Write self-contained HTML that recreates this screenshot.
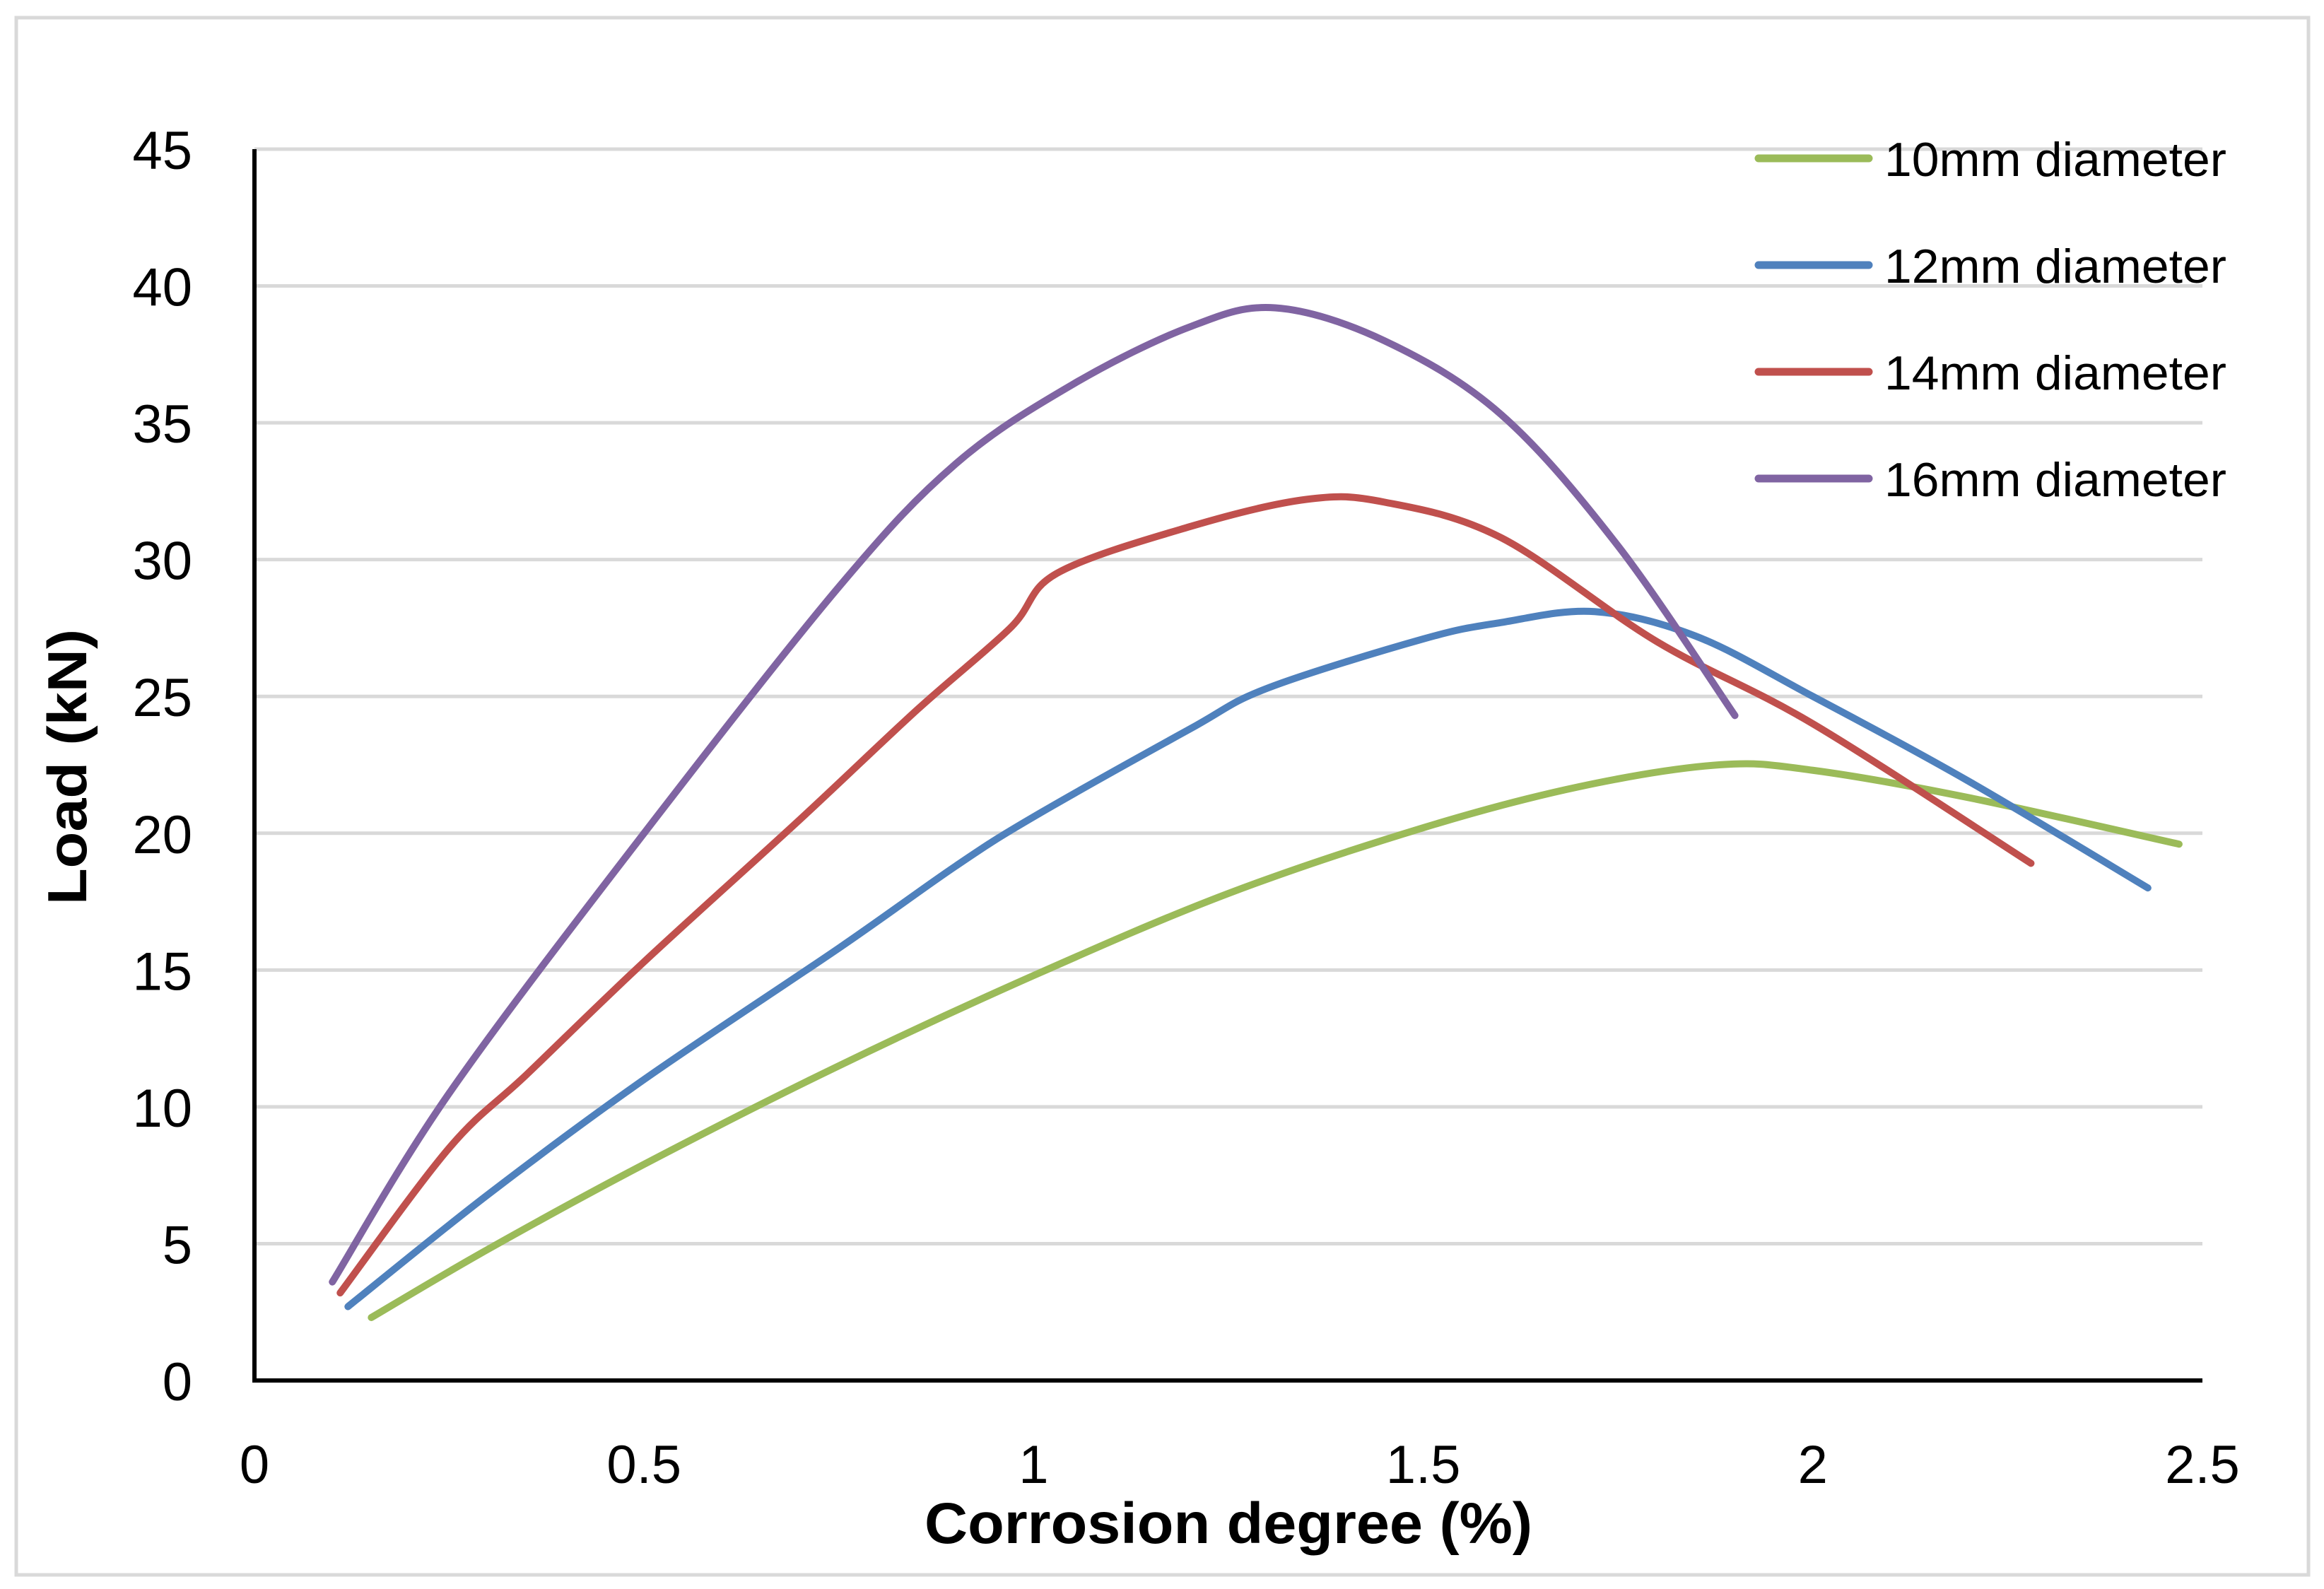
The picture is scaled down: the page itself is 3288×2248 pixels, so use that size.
<!DOCTYPE html>
<html><head><meta charset="utf-8"><style>
html,body{margin:0;padding:0;background:#fff;}
svg{display:block;font-family:"Liberation Sans",sans-serif;}
</style></head><body>
<svg id="chart" width="3288" height="2248" viewBox="0 0 3288 2248" xmlns="http://www.w3.org/2000/svg">
<rect x="23" y="25" width="3243" height="2203" fill="#fff" stroke="#d9d9d9" stroke-width="5"/>
<g id="grid"></g><g id="series"></g><g id="axes"></g><g id="legend"></g>
<text transform="translate(122,1085) rotate(-90)" text-anchor="middle" font-size="78" font-weight="bold" textLength="390" lengthAdjust="spacingAndGlyphs">Load (kN)</text>
<text x="1738" y="2183" text-anchor="middle" font-size="82" font-weight="bold" textLength="860" lengthAdjust="spacingAndGlyphs">Corrosion degree (%)</text>
</svg>
<script>
const xTicks=[0,0.5,1,1.5,2,2.5];
const yTicks=[0,5,10,15,20,25,30,35,40,45];
const seriesNames=["10mm diameter","12mm diameter","14mm diameter","16mm diameter"];
const seriesColors=["#9BBB59","#4F81BD","#C0504D","#8064A2"];
const x10=[0.15,0.3,0.5,0.75,1.0,1.25,1.5,1.7,1.88,2.0,2.2,2.47];
const y10=[2.3,4.8,7.9,11.5,14.8,17.8,20.2,21.7,22.5,22.3,21.3,19.6];
const x12=[0.12,0.3,0.5,0.75,0.9,1.0,1.2,1.3,1.5,1.6,1.72,1.85,2.0,2.2,2.43];
const y12=[2.7,6.8,11,15.8,18.8,20.6,23.8,25.3,27.1,27.7,28.1,27.2,25,21.9,18];
const x14=[0.11,0.25,0.35,0.5,0.7,0.85,0.97,1.03,1.2,1.35,1.45,1.6,1.8,2.0,2.28];
const y14=[3.2,8.5,11.2,15.3,20.5,24.5,27.5,29.5,31.2,32.2,32.1,30.8,27,24,18.9];
const x16=[0.1,0.25,0.5,0.75,0.9,1.05,1.2,1.31,1.45,1.6,1.75,1.9];
const y16=[3.6,10.5,20,29,33.5,36.4,38.5,39.2,38,35.3,30.5,24.3];
const seriesX=[x10,x12,x14,x16], seriesY=[y10,y12,y14,y16];

const X0=360,X1=3116,Y0=1953,Y1=211;
const sx=v=>X0+(v-0)/(2.5-0)*(X1-X0);
const sy=v=>Y0-(v-0)/(45-0)*(Y0-Y1);
const NS="http://www.w3.org/2000/svg";
function mk(tag,attrs,parent){const e=document.createElementNS(NS,tag);for(const k in attrs)e.setAttribute(k,attrs[k]);parent.appendChild(e);return e;}
const grid=document.getElementById('grid'),axes=document.getElementById('axes'),ser=document.getElementById('series'),leg=document.getElementById('legend');
yTicks.forEach(t=>{
  if(t>0){const l=mk('line',{x1:X0,x2:X1,y1:sy(t),y2:sy(t),stroke:'#d9d9d9','stroke-width':5},grid);
  
  }
  const tx=mk('text',{x:272,y:sy(t)+28,'text-anchor':'end','font-size':76},axes);
  tx.textContent=t;
  
  
});
xTicks.forEach(t=>{
  const tx=mk('text',{x:sx(t),y:2098,'text-anchor':'middle','font-size':76},axes);
  tx.textContent=t;
  
  
});
const ya=mk('line',{x1:X0,x2:X0,y1:Y1,y2:Y0+3,stroke:'#000','stroke-width':6},axes);


const xa=mk('line',{x1:X0-3,x2:X1,y1:Y0,y2:Y0,stroke:'#000','stroke-width':6},axes);


function smooth(p){let d=`M${p[0][0]},${p[0][1]}`;for(let i=0;i<p.length-1;i++){const a=p[i-1]||p[i],b=p[i],c=p[i+1],e=p[i+2]||c;
 const c1=[b[0]+(c[0]-a[0])/6,b[1]+(c[1]-a[1])/6],c2=[c[0]-(e[0]-b[0])/6,c[1]-(e[1]-b[1])/6];
 d+=` C${c1[0]},${c1[1]} ${c2[0]},${c2[1]} ${c[0]},${c[1]}`;}return d;}
seriesX.forEach((xs,i)=>{
  const pts=xs.map((x,j)=>[sx(x),sy(seriesY[i][j])]);
  const p=mk('path',{d:smooth(pts),fill:'none',stroke:seriesColors[i],'stroke-width':10,'stroke-linecap':'round','stroke-linejoin':'round'},ser);
  
  
  const ly=224+i*151;
  const ll=mk('line',{x1:2488,x2:2644,y1:ly,y2:ly,stroke:seriesColors[i],'stroke-width':11,'stroke-linecap':'round'},leg);
  
  
  const lt=mk('text',{x:2666,y:ly+25,'font-size':68,textLength:484,lengthAdjust:'spacingAndGlyphs'},leg);
  lt.textContent=seriesNames[i];
  
  
});
</script>
</body></html>
